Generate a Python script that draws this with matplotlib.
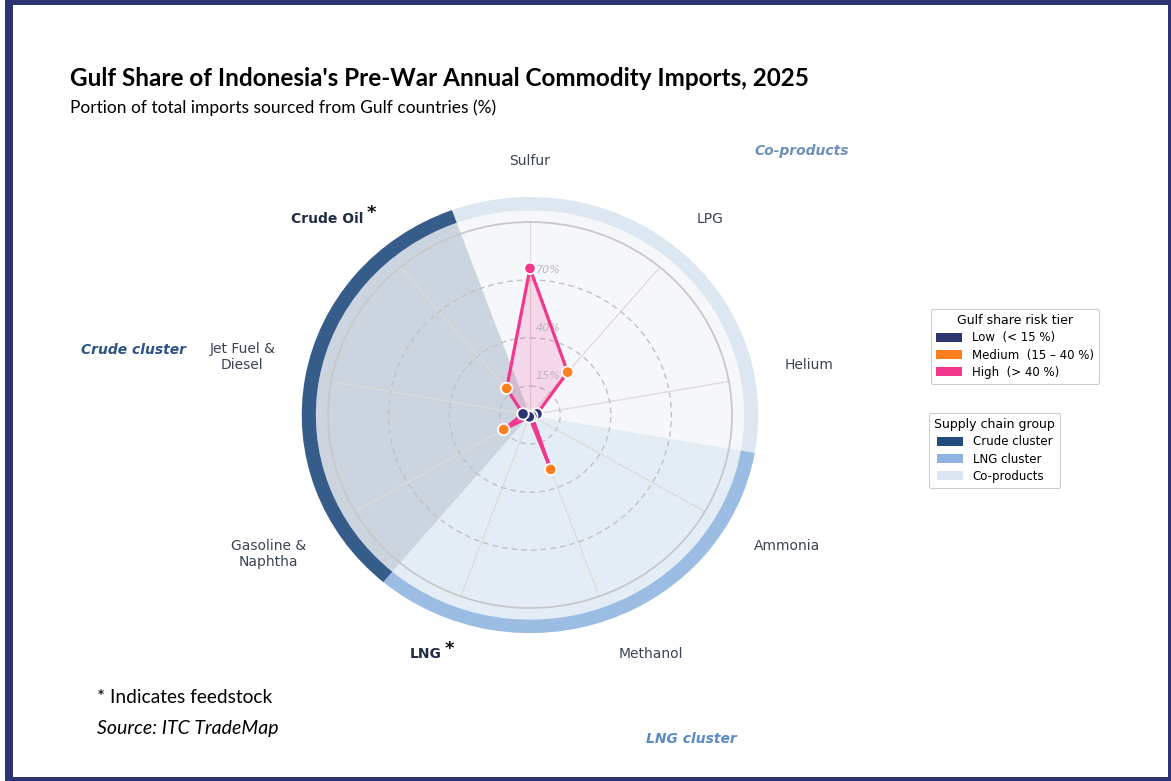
import numpy as np
import matplotlib
matplotlib.use("Agg")
import matplotlib.pyplot as plt
from matplotlib.patches import Patch, Rectangle
from matplotlib.transforms import offset_copy

# ---------------- data ----------------
categories = ["Sulfur", "LPG", "Helium", "Ammonia", "Methanol", "LNG",
              "Gasoline &\nNaphtha", "Jet Fuel &\nDiesel", "Crude Oil"]
gulf_share = [76, 29, 3.5, 1.0, 30, 1.0, 15, 3.5, 18]
feedstock = ["LNG", "Crude Oil"]

group_names = ["Co-products", "LNG cluster", "Crude cluster"]
group_sizes = [3, 3, 3]
legend_group_order = ["Crude cluster", "LNG cluster", "Co-products"]

tier_labels = ["Low  (< 15 %)", "Medium  (15 \u2013 40 %)", "High  (> 40 %)"]
tier_limits = [15, 40]
radial_ticks = [15, 40, 70]

# ---------------- styles ----------------
tier_colors = ["#2d3470", "#ff7f1e", "#f2378d"]
group_fill = ["#f5f7fb", "#e4ecf6", "#ccd4df"]
group_band = ["#dde7f2", "#9bbde3", "#365d8a"]
group_legend = {"Crude cluster": "#244b7d", "LNG cluster": "#8fb3e0",
                "Co-products": "#dce6f2"}
group_text = ["#6d8fba", "#5a8bc8", "#2d5286"]
frame_color = "#2e3373"
line_color = "#f2378d"

W, H = 1171, 781
fig = plt.figure(figsize=(W / 100, H / 100), dpi=100)
fig.patch.set_facecolor("white")

# frame around the figure
def px_rect(x0, y0, x1, y1, color):
    fig.add_artist(Rectangle((x0 / W, 1 - y1 / H), (x1 - x0) / W, (y1 - y0) / H,
                             transform=fig.transFigure, facecolor=color,
                             edgecolor="none", zorder=10))

px_rect(5, 0, 13, H, frame_color)
px_rect(5, 0, W, 5, frame_color)
px_rect(1168, 0, W, H, frame_color)
px_rect(5, 777, W, H, frame_color)

# ---------------- polar chart ----------------
ax = fig.add_axes([0.2801, 0.2215, 0.345, 0.4942], projection="polar")
ax.set_aspect("auto")
ax.set_theta_zero_location("N")
ax.set_theta_direction(-1)
ax.set_ylim(0, 100)
ax.set_facecolor("none")

n = len(categories)
step = 2 * np.pi / n
theta = np.arange(n) * step

# group sectors and the outer band
start = 0
for g, size in enumerate(group_sizes):
    centre = (start + (size - 1) / 2) * step
    ax.bar(centre, 106, width=size * step, bottom=0, color=group_fill[g],
           edgecolor="none", zorder=0.2, clip_on=False)
    ax.bar(centre, 7, width=size * step, bottom=106, color=group_band[g],
           edgecolor="none", zorder=0.3, clip_on=False)
    start += size

# grids
ax.set_xticks(theta)
ax.set_xticklabels([])
ax.set_yticks(radial_ticks)
ax.set_yticklabels([])
ax.xaxis.grid(True, color="#dedbd4", linewidth=0.9)
ax.yaxis.grid(True, color="#c2c2c2", linewidth=1.0, linestyle=(0, (4, 3)))
ax.spines["polar"].set_color("#c8c8c8")
ax.spines["polar"].set_linewidth(1.3)
ax.tick_params(length=0)

lbl_tr = offset_copy(ax.transData, fig=fig, x=4, y=3.5, units="points")
for v in radial_ticks:
    ax.text(0, v, f"{v}%", transform=lbl_tr, ha="left", va="bottom",
            fontsize=8, style="italic", color="#b8b8b8", zorder=2.5)

# share polygon
vals = np.array(gulf_share, dtype=float)
t_closed = np.append(theta, theta[0])
v_closed = np.append(vals, vals[0])
ax.fill(t_closed, v_closed, color=line_color, alpha=0.16, zorder=2, linewidth=0)
ax.plot(t_closed, v_closed, color=line_color, linewidth=2.3, zorder=3)

tiers = np.digitize(vals, [tier_limits[0], tier_limits[1] + 1e-9], right=False)
point_colors = [tier_colors[k] for k in tiers]
ax.scatter(theta, vals, c=point_colors, s=68, edgecolors="white",
           linewidths=1.3, zorder=4, clip_on=False)

# category labels
for i, name in enumerate(categories):
    ang = np.deg2rad(90 - np.rad2deg(theta[i]))
    c, s = np.cos(ang), np.sin(ang)
    ha = "left" if c > 0.1 else ("right" if c < -0.1 else "center")
    va = "bottom" if s > 0.1 else ("top" if s < -0.1 else "center")
    bold = name in feedstock
    t = ax.text(theta[i], 128, name, ha=ha, va=va, multialignment="center",
                fontsize=10, fontweight="bold" if bold else "normal",
                color="#1f2c47" if bold else "#3a4354", clip_on=False)
    if bold:
        ax.annotate("*", xy=(1, 1), xycoords=t, xytext=(2, -1),
                    textcoords="offset points", ha="left", va="center",
                    fontsize=13, fontweight="bold", color="#111111")

# group labels
group_label_pos = [(44.5, 192), (154.5, 186), (279.7, 199)]
for g, name in enumerate(group_names):
    a, r = group_label_pos[g]
    ax.text(np.deg2rad(a), r, name, ha="center", va="center", fontsize=10,
            fontweight="bold", style="italic", color=group_text[g],
            clip_on=False)

# ---------------- legends ----------------
legend_kw = dict(loc="upper left", fontsize=8.5, title_fontsize=9,
                 frameon=True, framealpha=1, edgecolor="#cccccc",
                 handlelength=2.2, handleheight=0.75, borderpad=0.45,
                 labelspacing=0.35, borderaxespad=0)

tier_handles = [Patch(facecolor=c, edgecolor="none") for c in tier_colors]
leg1 = fig.legend(tier_handles, tier_labels, title="Gulf share risk tier",
                  bbox_to_anchor=(931 / W, 1 - 309 / H), **legend_kw)
leg1.get_frame().set_linewidth(0.8)

group_handles = [Patch(facecolor=group_legend[g], edgecolor="none")
                 for g in legend_group_order]
leg2 = fig.legend(group_handles, legend_group_order, title="Supply chain group",
                  bbox_to_anchor=(929 / W, 1 - 413 / H), **legend_kw)
leg2.get_frame().set_linewidth(0.8)

# ---------------- titles and notes ----------------
fig.text(70 / W, 1 - 86 / H,
         "Gulf Share of Indonesia's Pre-War Annual Commodity Imports, 2025",
         fontsize=17.5, fontweight="bold", family="Lato", color="black",
         ha="left", va="baseline")
fig.text(70 / W, 1 - 113 / H,
         "Portion of total imports sourced from Gulf countries (%)",
         fontsize=12.5, family="Lato", color="black", ha="left", va="baseline")
fig.text(97 / W, 1 - 703 / H, "* Indicates feedstock", fontsize=13.8,
         family="Lato", color="black", ha="left", va="baseline")
fig.text(97 / W, 1 - 734 / H, "Source: ITC TradeMap", fontsize=14,
         family="Lato", style="italic", color="black", ha="left", va="baseline")

fig.savefig("out.png", dpi=100, facecolor="white")
